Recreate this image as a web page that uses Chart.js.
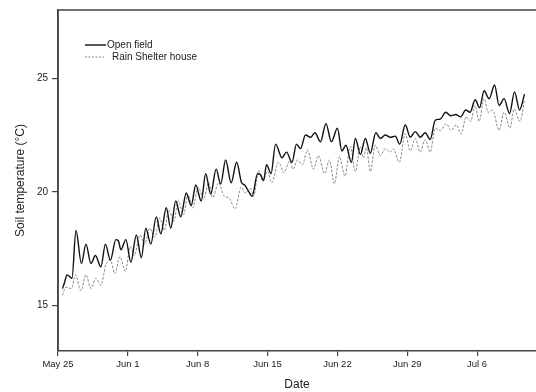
<!DOCTYPE html>
<html>
<head>
<meta charset="utf-8">
<script src="https://cdn.jsdelivr.net/npm/chart.js@4.4.1/dist/chart.umd.min.js"></script>
<style>
  html, body { margin: 0; padding: 0; background: #fff; }
  #wrap { width: 536px; height: 392px; position: relative; }
</style>
</head>
<body>
<div id="wrap"><canvas id="c" width="536" height="392"></canvas></div>
<script>
// ---- data (x = days since May 25) ----
const openDays = [0.45,0.65,0.9,1.4,1.8,2.35,2.8,3.3,3.75,4.3,4.75,5.25,5.8,6.05,6.3,6.8,7.3,7.85,8.35,8.8,9.3,9.85,10.3,10.85,11.3,11.8,12.3,12.85,13.35,13.8,14.35,14.8,15.3,15.85,16.3,16.8,17.35,17.9,18.4,18.7,19.2,19.45,20.0,20.3,20.6,20.9,21.35,21.8,22.45,22.9,23.45,23.9,24.3,24.8,25.3,25.75,26.3,26.85,27.4,28.0,28.45,28.85,29.4,29.8,30.3,30.8,31.3,31.85,32.3,32.8,33.3,33.8,34.25,34.8,35.3,35.8,36.3,36.8,37.3,37.8,38.3,38.85,39.35,39.85,40.35,40.85,41.3,41.8,42.25,42.7,43.2,43.75,44.2,44.7,45.25,45.75,46.25,46.75];
const openTemp = [15.75,16.0,16.35,16.2,18.3,16.85,17.7,16.85,17.2,16.7,17.7,17.0,17.9,17.85,17.45,17.9,16.9,18.1,17.1,18.4,17.7,18.9,18.15,19.3,18.4,19.6,18.9,19.95,19.4,20.3,19.6,20.8,19.9,21.0,20.35,21.4,20.4,21.3,20.4,20.3,19.95,19.8,20.8,20.75,20.5,21.2,20.8,22.1,21.5,21.75,21.3,22.1,21.9,22.5,22.4,22.6,22.2,23.0,22.2,22.8,21.8,22.05,21.3,22.35,21.65,22.35,21.7,22.6,22.35,22.5,22.4,22.45,22.1,22.95,22.4,22.65,22.4,22.6,22.3,23.15,23.2,23.5,23.35,23.4,23.3,23.6,23.5,24.05,23.7,24.45,24.1,24.7,23.8,24.1,23.45,24.4,23.6,24.3];

const shelterDays = [0.45,0.75,1.35,1.75,2.3,2.8,3.3,3.8,4.3,4.8,5.25,5.7,6.2,6.75,7.25,7.65,8.2,8.7,9.2,9.7,10.2,10.65,11.1,11.6,12.05,12.6,13.0,13.5,14.05,14.6,15.1,15.5,16.1,16.6,17.2,17.75,18.35,18.8,19.3,19.6,20.1,20.5,21.0,21.4,22.1,22.65,23.2,23.55,24.0,24.5,25.0,25.6,26.1,26.7,27.2,27.7,28.2,28.75,29.3,29.8,30.3,30.6,30.9,31.3,31.8,32.3,32.8,33.3,33.6,34.2,34.8,35.3,35.8,36.3,36.8,37.3,37.8,38.3,38.9,39.4,39.9,40.4,40.9,41.35,41.8,42.2,42.7,43.1,43.55,44.2,44.7,45.3,45.7,46.3,46.75];
const shelterTemp = [15.45,15.8,15.75,16.35,15.65,16.35,15.75,16.2,15.9,16.8,17.0,16.4,17.15,16.5,17.6,17.2,18.1,17.7,18.4,18.0,18.85,18.3,19.2,18.7,19.6,19.0,19.9,19.3,20.2,19.7,20.4,19.75,20.4,19.85,19.7,19.25,20.2,19.95,20.15,19.8,20.95,20.45,20.9,20.4,21.3,20.85,21.35,21.0,21.4,21.2,21.85,21.0,21.6,20.8,21.4,20.35,21.55,20.7,22.0,20.9,22.0,21.5,21.95,20.9,22.05,21.6,21.9,21.75,21.9,21.3,22.55,21.8,22.35,21.75,22.3,21.75,22.8,22.7,23.0,22.7,22.95,22.55,23.3,23.1,23.8,23.1,24.1,23.5,23.6,22.7,23.5,22.8,23.65,23.1,24.05];

const xTickDays = [0, 7, 14, 21, 28, 35, 42];
const xTickLabels = ["May 25", "Jun 1", "Jun 8", "Jun 15", "Jun 22", "Jun 29", "Jul 6"];
const yTickValues = [15, 20, 25];

const seriesNames = ["Open field", "Rain Shelter house"];

// ---- build ----
const toPts = (xs, ys) => xs.map((x, i) => ({ x: x, y: ys[i] }));
const FONT = "'Liberation Sans', Arial, sans-serif";
const AXIS = '#444';

const framePlugin = {
  id: 'frame',
  afterDraw(chart) {
    const { ctx, chartArea: a } = chart;
    ctx.save();
    ctx.strokeStyle = AXIS;
    ctx.lineWidth = 1.5;
    ctx.beginPath();
    ctx.moveTo(a.left, a.bottom);
    ctx.lineTo(a.left, a.top);
    ctx.lineTo(a.right, a.top);
    ctx.stroke();
    ctx.restore();
  }
};

const legendPlugin = {
  id: 'insideLegend',
  afterDraw(chart) {
    const { ctx, chartArea: a } = chart;
    ctx.save();
    ctx.font = '10px ' + FONT;
    ctx.fillStyle = '#222';
    ctx.textBaseline = 'middle';
    const x0 = a.left + 27;
    // solid
    let y = a.top + 35;
    ctx.strokeStyle = '#111'; ctx.lineWidth = 1.4; ctx.setLineDash([]);
    ctx.beginPath(); ctx.moveTo(x0, y); ctx.lineTo(x0 + 21, y); ctx.stroke();
    ctx.fillText(seriesNames[0], x0 + 22, y);
    // dashed
    y = a.top + 47;
    ctx.strokeStyle = '#888'; ctx.lineWidth = 1; ctx.setLineDash([2, 1.5]);
    ctx.beginPath(); ctx.moveTo(x0, y); ctx.lineTo(x0 + 19, y); ctx.stroke();
    ctx.setLineDash([]);
    ctx.fillText(seriesNames[1], x0 + 27, y);
    ctx.restore();
  }
};

new Chart(document.getElementById('c'), {
  type: 'line',
  data: {
    datasets: [
      {
        label: seriesNames[0],
        data: toPts(openDays, openTemp),
        borderColor: '#111',
        borderWidth: 1.4,
        pointRadius: 0,
        cubicInterpolationMode: 'monotone',
        fill: false
      },
      {
        label: seriesNames[1],
        data: toPts(shelterDays, shelterTemp),
        borderColor: '#888',
        borderWidth: 1,
        borderDash: [2.5, 1.5],
        pointRadius: 0,
        cubicInterpolationMode: 'monotone',
        fill: false
      }
    ]
  },
  options: {
    responsive: false,
    animation: false,
    layout: { padding: { top: 9, right: 0, left: 0, bottom: 0 } },
    plugins: { legend: { display: false }, tooltip: { enabled: false } },
    scales: {
      x: {
        type: 'linear',
        min: 0,
        max: 47.9,
        afterBuildTicks: s => { s.ticks = xTickDays.map(v => ({ value: v })); },
        afterFit: s => { s.height = 41; },
        ticks: {
          autoSkip: false, maxRotation: 0, padding: 3,
          color: '#222', font: { family: FONT, size: 9.5 },
          callback: v => { const i = xTickDays.indexOf(v); return i >= 0 ? xTickLabels[i] : ''; }
        },
        grid: { drawOnChartArea: false, drawTicks: true, tickLength: 5, color: AXIS, lineWidth: 1.2 },
        border: { display: true, color: AXIS, width: 1.5 },
        title: { display: true, text: 'Date', color: '#222', font: { family: FONT, size: 12 }, padding: { top: 3, bottom: 0 } }
      },
      y: {
        min: 13,
        max: 28,
        afterBuildTicks: s => { s.ticks = yTickValues.map(v => ({ value: v })); },
        afterFit: s => { s.width = 58; },
        ticks: { padding: 4, color: '#222', font: { family: FONT, size: 10 } },
        grid: { drawOnChartArea: false, drawTicks: true, tickLength: 6, color: AXIS, lineWidth: 1.2 },
        border: { display: true, color: AXIS, width: 1.5 },
        title: { display: true, text: 'Soil temperature (°C)', color: '#222', font: { family: FONT, size: 12 }, padding: { top: 13, bottom: 0 } }
      }
    }
  },
  plugins: [framePlugin, legendPlugin]
});
</script>
</body>
</html>
